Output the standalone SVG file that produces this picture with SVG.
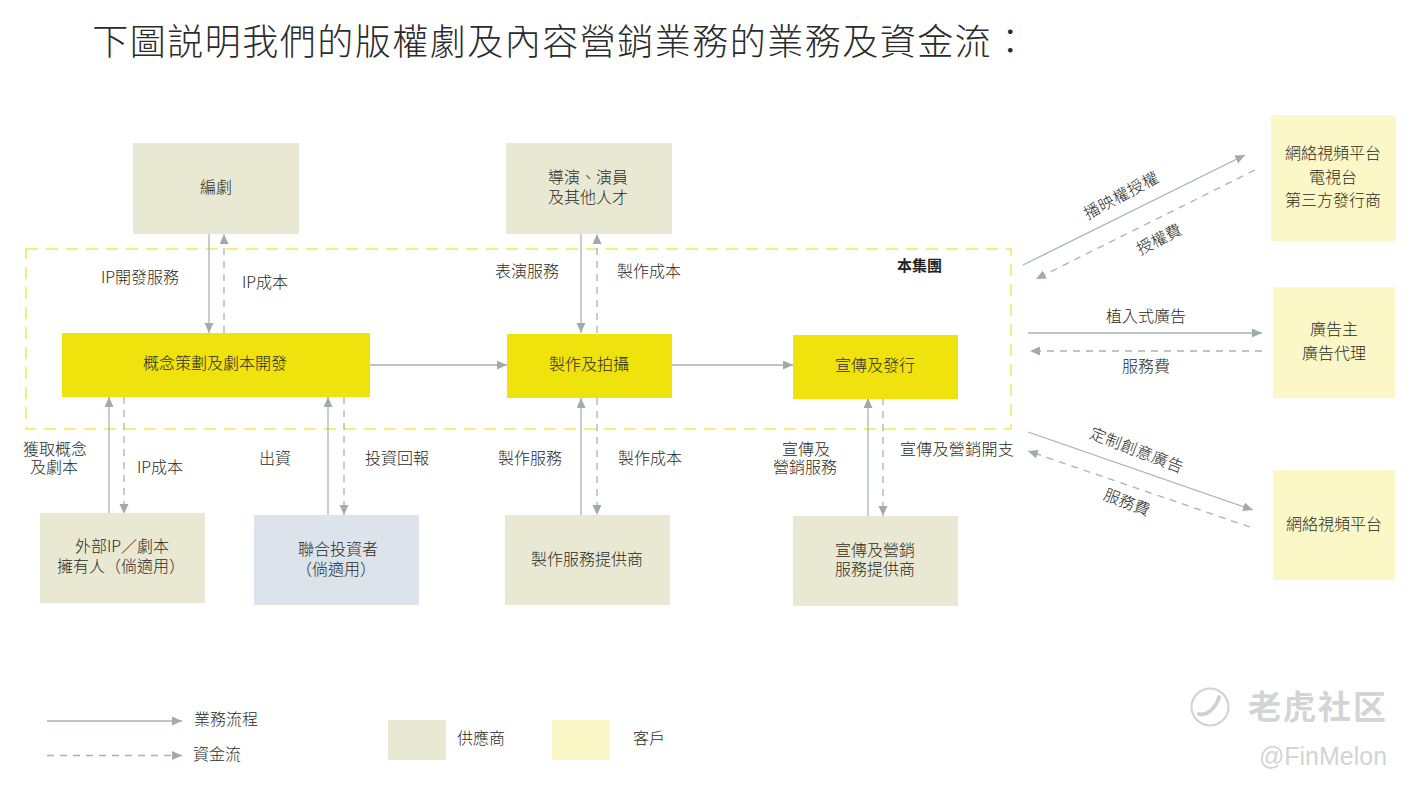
<svg xmlns="http://www.w3.org/2000/svg" width="1416" height="788" viewBox="0 0 1416 788">
<style>
text{font-family:"Noto Sans CJK TC","Noto Sans CJK SC",sans-serif;font-size:16px;fill:#2a2a26;text-anchor:middle;font-weight:300}
.s{fill:#e9e9d3}.c{fill:#fbf7c6}.y{fill:#f0e20c}.b{fill:#dde3eb}
.f,.d{fill:none;stroke:#a8b3b0;stroke-width:1.3}
.d{stroke-dasharray:7 6}
</style>
<defs>
<marker id="a" markerWidth="12" markerHeight="10" refX="10" refY="4.5" orient="auto" markerUnits="userSpaceOnUse"><path d="M0 0L10 4.5L0 9z" fill="#9fada9"/></marker>
</defs>
<rect width="1416" height="788" fill="#fff"/>
<text x="561" y="55" style="font-size:36px;letter-spacing:1.5px;fill:#2b2b2b">下圖説明我們的版權劇及內容營銷業務的業務及資金流：</text>
<rect id="group-box" x="26" y="249" width="985" height="180" fill="none" stroke="#f3e74f" stroke-width="1.4" stroke-dasharray="12 8"/>
<text x="919.500" y="271" style="font-size:15px;font-weight:700;fill:#222">本集團</text>

<g id="connectors">
<path class="f" marker-end="url(#a)" d="M209 234V333"/>
<path class="d" marker-end="url(#a)" d="M224 333V234"/>
<path class="f" marker-end="url(#a)" d="M581 234V333"/>
<path class="d" marker-end="url(#a)" d="M597 333V234"/>
<path class="f" marker-end="url(#a)" d="M370 365H507"/>
<path class="f" marker-end="url(#a)" d="M672 365H793"/>
<path class="f" marker-end="url(#a)" d="M109 514V397"/>
<path class="d" marker-end="url(#a)" d="M124 397V514"/>
<path class="f" marker-end="url(#a)" d="M328 515V397"/>
<path class="d" marker-end="url(#a)" d="M344 397V515"/>
<path class="f" marker-end="url(#a)" d="M581 515V398"/>
<path class="d" marker-end="url(#a)" d="M597 398V515"/>
<path class="f" marker-end="url(#a)" d="M868 516V398"/>
<path class="d" marker-end="url(#a)" d="M883 398V516"/>
<path class="f" marker-end="url(#a)" d="M1023 265L1245 155"/>
<path class="d" marker-end="url(#a)" d="M1255 170L1036 279"/>
<path class="f" marker-end="url(#a)" d="M1028 333H1262"/>
<path class="d" marker-end="url(#a)" d="M1262 351H1030"/>
<path class="f" marker-end="url(#a)" d="M1028 432L1253 510"/>
<path class="d" marker-end="url(#a)" d="M1250 527L1028 451"/>
</g>

<g id="n-writer"><rect class="s" x="133" y="143" width="166" height="91"/><text x="216" y="193">編劇</text></g>
<g id="n-talent"><rect class="s" x="506" y="143" width="166" height="91"/><text x="588" y="183">導演、演員<tspan x="588" dy="20">及其他人才</tspan></text></g>
<g id="n-concept"><rect class="y" x="62" y="333" width="308" height="64"/><text x="215" y="369">概念策劃及劇本開發</text></g>
<g id="n-produce"><rect class="y" x="507" y="334" width="165" height="64"/><text x="589" y="370">製作及拍攝</text></g>
<g id="n-promo"><rect class="y" x="793" y="335" width="165" height="64"/><text x="875" y="371">宣傳及發行</text></g>
<g id="n-ipowner"><rect class="s" x="40" y="513" width="165" height="90"/><text x="122" y="552">外部IP／劇本<tspan x="121" dy="20">擁有人（倘適用）</tspan></text></g>
<g id="n-investor"><rect class="b" x="254" y="515" width="165" height="90"/><text x="338" y="555">聯合投資者<tspan x="336" dy="20">（倘適用）</tspan></text></g>
<g id="n-prodsvc"><rect class="s" x="505" y="515" width="165" height="90"/><text x="587" y="565">製作服務提供商</text></g>
<g id="n-mktsvc"><rect class="s" x="793" y="516" width="165" height="90"/><text x="875" y="556">宣傳及營銷<tspan x="875" dy="19">服務提供商</tspan></text></g>
<g id="n-platform1"><rect class="c" x="1271" y="115" width="125" height="126"/><text x="1333" y="159">網絡視頻平台<tspan x="1333" dy="23.500">電視台</tspan><tspan x="1333" dy="23.500">第三方發行商</tspan></text></g>
<g id="n-advertiser"><rect class="c" x="1273" y="287" width="122" height="111"/><text x="1334" y="335">廣告主<tspan x="1334" dy="24">廣告代理</tspan></text></g>
<g id="n-platform2"><rect class="c" x="1273" y="470" width="122" height="110"/><text x="1334" y="530">網絡視頻平台</text></g>

<g id="labels">
<text x="140" y="283">IP開發服務</text>
<text x="265" y="288">IP成本</text>
<text x="527" y="277">表演服務</text>
<text x="649" y="277">製作成本</text>
<text x="55" y="455">獲取概念<tspan x="54" dy="18">及劇本</tspan></text>
<text x="160" y="473">IP成本</text>
<text x="275" y="464">出資</text>
<text x="397" y="464">投資回報</text>
<text x="530" y="464">製作服務</text>
<text x="650" y="464">製作成本</text>
<text x="806" y="455">宣傳及<tspan x="805" dy="18">營銷服務</tspan></text>
<text x="957" y="455" style="letter-spacing:.3px">宣傳及營銷開支</text>
<text x="1121" y="201" transform="rotate(-28 1121 195)" style="letter-spacing:.5px">播映權授權</text>
<text x="1159" y="245" transform="rotate(-27 1159 239)">授權費</text>
<text x="1146" y="322">植入式廣告</text>
<text x="1146" y="372">服務費</text>
<text x="1137" y="456" transform="rotate(21 1137 450)" style="letter-spacing:.5px">定制創意廣告</text>
<text x="1127" y="508" transform="rotate(21 1127 502)">服務費</text>
</g>

<g id="legend">
<path class="f" marker-end="url(#a)" d="M47 721H182"/>
<path class="d" marker-end="url(#a)" d="M47 755.500H182"/>
<text x="226" y="725">業務流程</text>
<text x="217" y="760">資金流</text>
<rect class="s" x="388" y="720" width="58" height="40"/>
<text x="481" y="744">供應商</text>
<rect class="c" x="552" y="720" width="58" height="40"/>
<text x="649" y="744">客戶</text>
</g>

<g id="watermark">
<circle cx="1210" cy="707" r="18.500" fill="none" stroke="#cfd1d3" stroke-width="2"/>
<path d="M1199 714c8 2 17-6 20-17" fill="none" stroke="#cfd1d3" stroke-width="4" stroke-linecap="round" stroke-dasharray="5 3"/>
<text x="1318" y="719" style="font-size:33px;font-weight:700;fill:#d2d4d6;letter-spacing:2px">老虎社区</text>
<text x="1323" y="765" style="font-family:'Liberation Sans',sans-serif;font-size:25px;fill:#d2d4d6">@FinMelon</text>
</g>
</svg>
